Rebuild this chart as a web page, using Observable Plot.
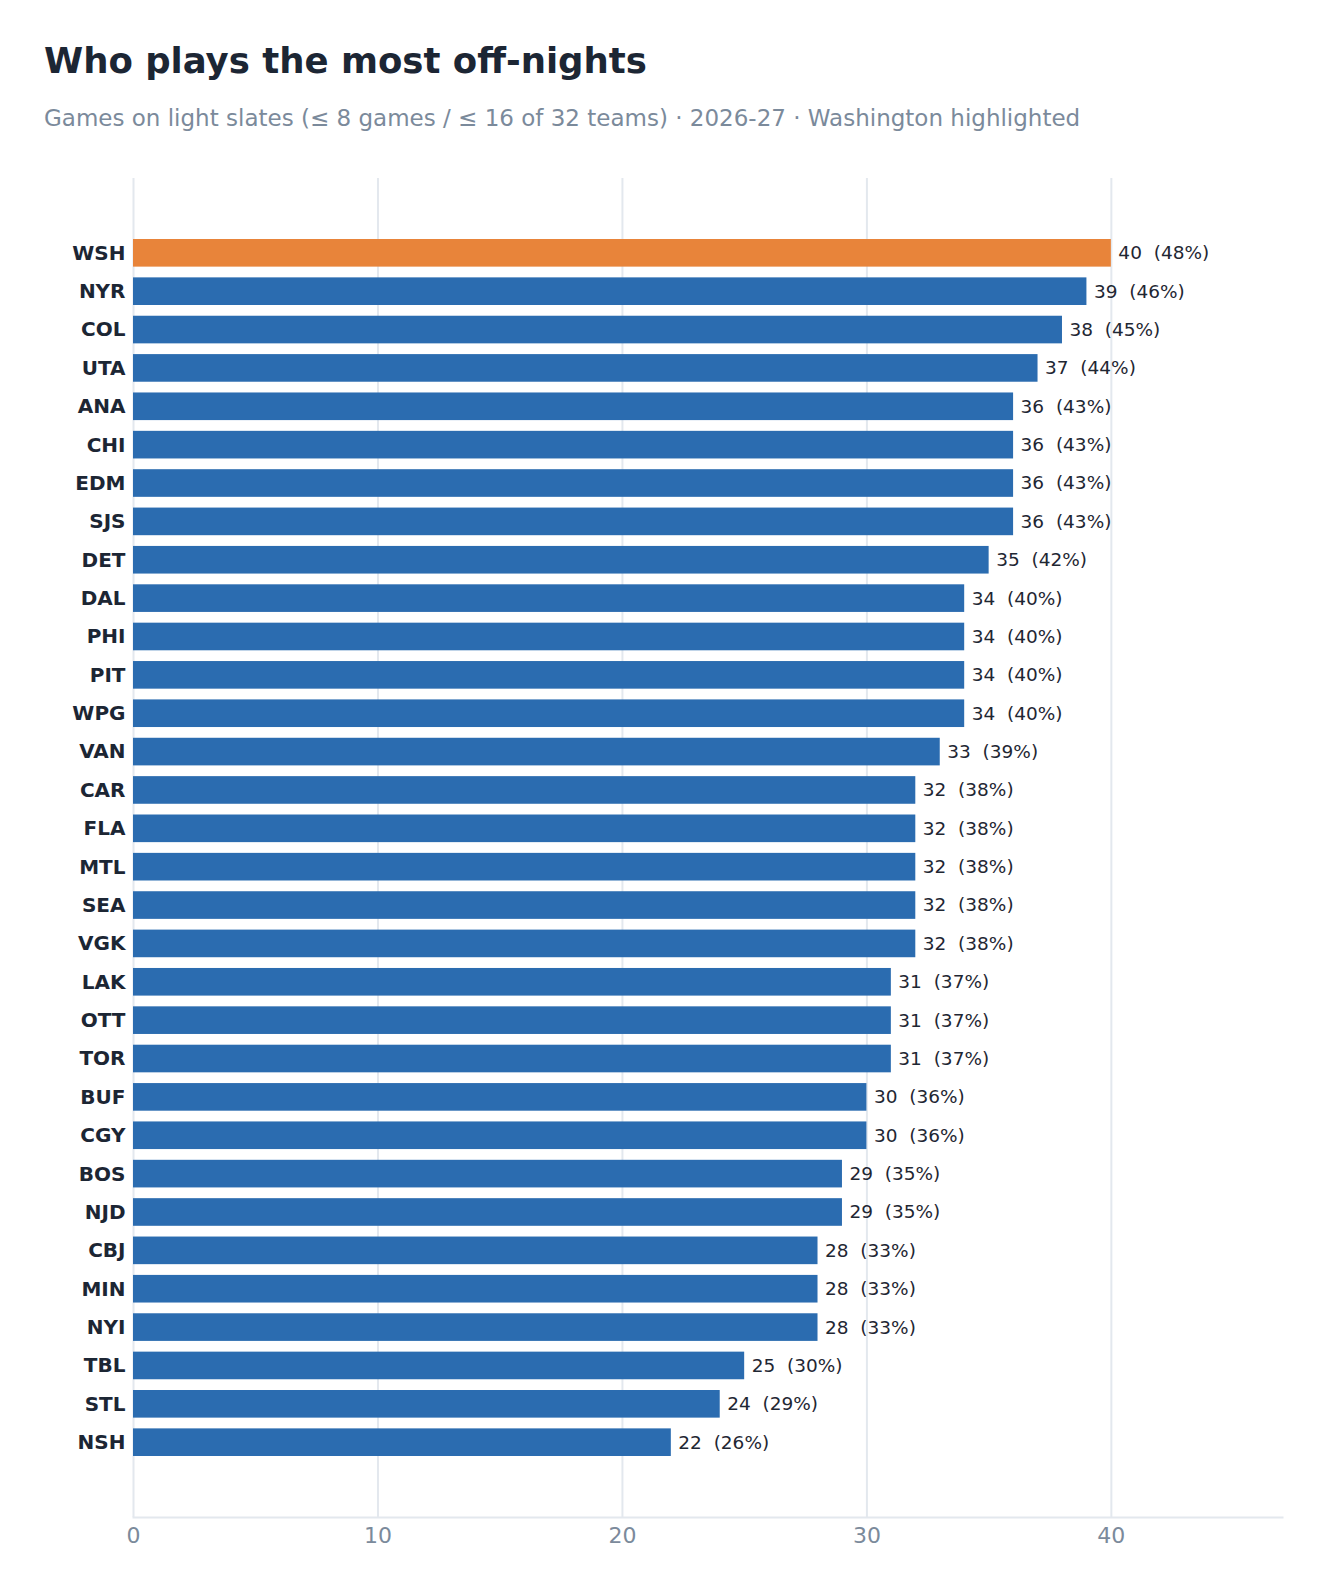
<!DOCTYPE html>
<html>
<head>
<meta charset="utf-8">
<script src="https://cdn.jsdelivr.net/npm/d3@7"></script>
<script src="https://cdn.jsdelivr.net/npm/@observablehq/plot@0.6"></script>
<style>
  html, body { margin: 0; padding: 0; background: #ffffff; }
  body { width: 1325px; height: 1592px; position: relative; overflow: hidden; font-family: "DejaVu Sans", sans-serif; }
  #title { position: absolute; left: 44px; top: 43px; font-size: 35.5px; font-weight: bold; color: #1c2634; line-height: 1; white-space: nowrap; }
  #subtitle { position: absolute; left: 44px; top: 106.5px; font-size: 23px; color: #7b8a9b; line-height: 1; white-space: nowrap; }
  #chart { position: absolute; left: 0; top: 150px; }
</style>
</head>
<body>
<div id="title">Who plays the most off-nights</div>
<div id="subtitle">Games on light slates (≤ 8 games / ≤ 16 of 32 teams) · 2026-27 · Washington highlighted</div>
<div id="chart"></div>
<script>
const teams = ["WSH","NYR","COL","UTA","ANA","CHI","EDM","SJS","DET","DAL","PHI","PIT","WPG","VAN","CAR","FLA","MTL","SEA","VGK","LAK","OTT","TOR","BUF","CGY","BOS","NJD","CBJ","MIN","NYI","TBL","STL","NSH"];
const games = [40,39,38,37,36,36,36,36,35,34,34,34,34,33,32,32,32,32,32,31,31,31,30,30,29,29,28,28,28,25,24,22];
const pcts  = [48,46,45,44,43,43,43,43,42,40,40,40,40,39,38,38,38,38,38,37,37,37,36,36,35,35,33,33,33,30,29,26];
const xTicks = [0,10,20,30,40];
const highlight = "WSH";

const data = teams.map((t, i) => ({team: t, games: games[i], pct: pcts[i]}));

const chart = Plot.plot({
  width: 1325,
  height: 1442,
  marginLeft: 133,
  marginRight: 43,
  marginTop: 28,
  marginBottom: 75,
  style: {fontFamily: "DejaVu Sans, sans-serif", background: "#ffffff"},
  x: {domain: [0, 47], label: null},
  y: {domain: teams, label: null, paddingInner: 0.28, paddingOuter: 1.59, round: false},
  marks: [
    Plot.gridX(xTicks, {stroke: "#e3e8ee", strokeOpacity: 1, strokeWidth: 2}),
    Plot.frame({anchor: "bottom", stroke: "#e3e8ee", strokeWidth: 2}),
    Plot.barX(data, {x: "games", y: "team", fill: d => d.team === highlight ? "#e8843a" : "#2b6cb0"}),
    Plot.text(data, {x: "games", y: "team", text: d => `${d.games}  (${d.pct}%)`, textAnchor: "start", dx: 7, fontSize: 18.5, fill: "#1f2733"}),
    Plot.axisY({tickSize: 0, tickPadding: 8, fontSize: 20, fontWeight: "bold", fill: "#1c2634"}),
    Plot.axisX(xTicks, {tickSize: 0, tickPadding: 10, fontSize: 22, fill: "#7b8a9b"})
  ]
});
document.getElementById("chart").appendChild(chart);
</script>
</body>
</html>
